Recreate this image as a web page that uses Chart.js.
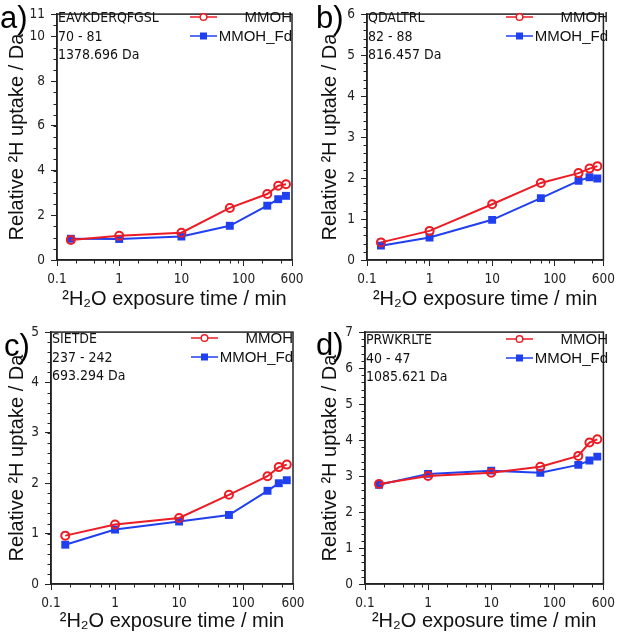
<!DOCTYPE html>
<html>
<head>
<meta charset="utf-8">
<script src="https://cdn.jsdelivr.net/npm/chart.js@4.4.1/dist/chart.umd.min.js"></script>
<style>
  html, body { margin: 0; padding: 0; background: #fff; }
  body { width: 620px; height: 637px; position: relative; overflow: hidden; }
  .panel { position: absolute; }
  .panel canvas { position: absolute; left: 0; top: 0; }
  .tag { position: absolute; font-family: 'Liberation Sans', Arial, sans-serif; font-size: 31px; line-height: 1; color: #000; }
  .pep { position: absolute; font-family: 'DejaVu Sans Condensed', 'DejaVu Sans', sans-serif; font-stretch: condensed; font-size: 14px; line-height: 18.5px; color: #111; white-space: nowrap; }
  .legend { position: absolute; display: grid; grid-template-columns: 27px auto; align-items: center; font-family: 'Liberation Sans', Arial, sans-serif; font-size: 15px; line-height: 19px; color: #111; }
  .legend span { text-align: right; padding-left: 2px; }
  .legend svg { display: block; }
</style>
</head>
<body>

<script>
// ---- data ----
const times = [0.167, 1, 10, 60, 240, 360, 480];
const seriesNames = ['MMOH', 'MMOH_Fd'];
const xTickValues = [0.1, 1, 10, 100, 600];
const xTickLabels = ['0.1', '1', '10', '100', '600'];
const xMinorTicks = [0.2, 0.4, 0.6, 0.8, 2, 4, 6, 8, 20, 40, 60, 80, 200, 400];

// a) EAVKDERQFGSL
const peptideA = ['EAVKDERQFGSL', '70 - 81', '1378.696 Da'];
const mmohA   = [0.90, 1.08, 1.22, 2.33, 2.95, 3.32, 3.39];
const mmohFdA = [0.95, 0.94, 1.05, 1.53, 2.43, 2.72, 2.87];
const yTicksA = [0, 2, 4, 6, 8, 10, 11];

// b) QDALTRL
const peptideB = ['QDALTRL', '82 - 88', '816.457 Da'];
const mmohB   = [0.43, 0.71, 1.36, 1.88, 2.12, 2.23, 2.29];
const mmohFdB = [0.35, 0.55, 0.98, 1.51, 1.93, 2.02, 1.99];
const yTicksB = [0, 1, 2, 3, 4, 5, 6];

// c) SIETDE
const peptideC = ['SIETDE', '237 - 242', '693.294 Da'];
const mmohC   = [0.96, 1.18, 1.31, 1.77, 2.14, 2.32, 2.37];
const mmohFdC = [0.78, 1.08, 1.24, 1.37, 1.85, 2.00, 2.06];
const yTicksC = [0, 1, 2, 3, 4, 5];

// d) PRWKRLTE
const peptideD = ['PRWKRLTE', '40 - 47', '1085.621 Da'];
const mmohD   = [2.78, 3.00, 3.09, 3.26, 3.56, 3.93, 4.02];
const mmohFdD = [2.76, 3.06, 3.15, 3.09, 3.31, 3.43, 3.54];
const yTicksD = [0, 1, 2, 3, 4, 5, 6, 7];

const RED = 'rgb(236,28,36)';
const BLUE = 'rgb(32,64,240)';
const INK = '#222';

// panel placement (pixels), kept apart from the data
const panels = [
  { tag: 'a)', pep: peptideA, red: mmohA, blue: mmohFdA, yTicks: yTicksA, yMinorStep: 0.5,
    box: { x: 0, y: 0, w: 310, h: 318 }, area: { left: 57, right: 292, top: 8, bottom: 260 },
    yTitlePad: 5, xTitlePad: 7, tagPos: { x: 0, y: 2 } },
  { tag: 'b)', pep: peptideB, red: mmohB, blue: mmohFdB, yTicks: yTicksB, yMinorStep: 0.2,
    box: { x: 310, y: 0, w: 310, h: 318 }, area: { left: 57, right: 298, top: 8, bottom: 260 },
    yTitlePad: 8, xTitlePad: 7, tagPos: { x: 6, y: 2 } },
  { tag: 'c)', pep: peptideC, red: mmohC, blue: mmohFdC, yTicks: yTicksC, yMinorStep: 0.2,
    box: { x: 0, y: 318, w: 310, h: 319 }, area: { left: 51, right: 293, top: 11, bottom: 266 },
    yTitlePad: 5, xTitlePad: 4, tagPos: { x: 4, y: 12 } },
  { tag: 'd)', pep: peptideD, red: mmohD, blue: mmohFdD, yTicks: yTicksD, yMinorStep: 0.2,
    box: { x: 310, y: 318, w: 310, h: 319 }, area: { left: 55, right: 298, top: 12, bottom: 266 },
    yTitlePad: 8, xTitlePad: 4, tagPos: { x: 6, y: 11 } }
];

// minor ticks + closed frame around the plot area
const frameAndMinor = {
  id: 'frameAndMinor',
  afterDraw(chart, args, opts) {
    const { ctx, chartArea: a, scales: { x, y } } = chart;
    ctx.save();
    ctx.strokeStyle = INK;
    ctx.lineWidth = 1;
    ctx.beginPath();
    xMinorTicks.forEach(v => {
      const px = Math.round(x.getPixelForValue(v)) + 0.5;
      ctx.moveTo(px, a.bottom);
      ctx.lineTo(px, a.bottom + 3.5);
    });
    const yMax = y.max;
    for (let k = 0; k * opts.yStep <= yMax + 1e-9; k++) {
      const v = k * opts.yStep;
      const py = Math.round(y.getPixelForValue(v)) + 0.5;
      ctx.moveTo(a.left, py);
      ctx.lineTo(a.left - 3.5, py);
    }
    ctx.stroke();
    ctx.lineWidth = 1.5;
    ctx.strokeRect(a.left, a.top, a.right - a.left, a.bottom - a.top);
    ctx.restore();
  }
};

function legendSvg(color, square) {
  const mark = square
    ? `<rect x="10" y="5.5" width="7" height="7" fill="${color}"/>`
    : `<circle cx="13.5" cy="9" r="3.3" fill="#fff" stroke="${color}" stroke-width="1.4"/>`;
  return `<svg width="27" height="18"><line x1="0" y1="9" x2="27" y2="9" stroke="${color}" stroke-width="1.5"/>${mark}</svg>`;
}

panels.forEach(p => {
  const wrap = document.createElement('div');
  wrap.className = 'panel';
  Object.assign(wrap.style, { left: p.box.x + 'px', top: p.box.y + 'px', width: p.box.w + 'px', height: p.box.h + 'px' });
  const canvas = document.createElement('canvas');
  canvas.width = p.box.w;
  canvas.height = p.box.h;
  wrap.appendChild(canvas);
  document.body.appendChild(wrap);

  const a = p.area;
  new Chart(canvas, {
    type: 'line',
    data: {
      datasets: [
        {
          label: seriesNames[0],
          data: times.map((t, i) => ({ x: t, y: p.red[i] })),
          borderColor: RED, borderWidth: 2,
          pointStyle: 'circle', pointRadius: 4, pointBorderWidth: 2,
          pointBorderColor: RED, pointBackgroundColor: 'rgba(255,255,255,0)',
          tension: 0
        },
        {
          label: seriesNames[1],
          data: times.map((t, i) => ({ x: t, y: p.blue[i] })),
          borderColor: BLUE, borderWidth: 2,
          pointStyle: 'rect', pointRadius: 5.6, pointBorderWidth: 0,
          pointBackgroundColor: BLUE, pointBorderColor: BLUE,
          tension: 0
        }
      ]
    },
    options: {
      responsive: false,
      animation: false,
      devicePixelRatio: 1,
      layout: { padding: { left: 0, top: a.top, right: p.box.w - a.right, bottom: 0 } },
      plugins: {
        legend: { display: false },
        tooltip: { enabled: false },
        frameAndMinor: { yStep: p.yMinorStep }
      },
      scales: {
        x: {
          type: 'logarithmic',
          min: 0.1, max: 600,
          afterBuildTicks: s => { s.ticks = xTickValues.map(v => ({ value: v })); },
          afterFit: s => { s.height = p.box.h - a.bottom; },
          ticks: {
            autoSkip: false, maxRotation: 0, padding: 5, color: INK,
            font: { family: "'DejaVu Sans Condensed', 'DejaVu Sans'", size: 13.5 },
            callback: (v, i) => xTickLabels[i]
          },
          grid: { drawOnChartArea: false, drawTicks: true, tickLength: 6, tickColor: INK, tickWidth: 1 },
          border: { display: true, color: INK, width: 1.5 },
          title: {
            display: true, text: '²H₂O exposure time / min', color: '#111',
            font: { family: "'Liberation Sans', Arial", size: 20, lineHeight: 1.2 },
            padding: { top: 0, bottom: p.xTitlePad }
          }
        },
        y: {
          type: 'linear',
          min: 0, max: p.yTicks[p.yTicks.length - 1],
          afterBuildTicks: s => { s.ticks = p.yTicks.map(v => ({ value: v })); },
          afterFit: s => { s.width = a.left; },
          ticks: {
            autoSkip: false, padding: 6, color: INK,
            font: { family: "'DejaVu Sans Condensed', 'DejaVu Sans'", size: 13.5 },
            callback: v => String(v)
          },
          grid: { drawOnChartArea: false, drawTicks: true, tickLength: 6, tickColor: INK, tickWidth: 1 },
          border: { display: true, color: INK, width: 1.5 },
          title: {
            display: true, text: 'Relative ²H uptake / Da', color: '#111',
            font: { family: "'Liberation Sans', Arial", size: 20, lineHeight: 1.2 },
            padding: { top: p.yTitlePad, bottom: 0 }
          }
        }
      }
    },
    plugins: [frameAndMinor]
  });

  // panel letter
  const tag = document.createElement('div');
  tag.className = 'tag';
  tag.textContent = p.tag;
  Object.assign(tag.style, { left: p.tagPos.x + 'px', top: p.tagPos.y + 'px' });
  wrap.appendChild(tag);

  // peptide sequence, residue range, mass
  const pep = document.createElement('div');
  pep.className = 'pep';
  pep.innerHTML = p.pep.join('<br>');
  Object.assign(pep.style, { left: (a.left + 1) + 'px', top: a.top + 'px' });
  wrap.appendChild(pep);

  // legend, right aligned against the frame
  const lg = document.createElement('div');
  lg.className = 'legend';
  lg.innerHTML =
    legendSvg(RED, false) + `<span>${seriesNames[0]}</span>` +
    legendSvg(BLUE, true) + `<span>${seriesNames[1]}</span>`;
  Object.assign(lg.style, { right: (p.box.w - a.right) + 'px', top: (a.top - 1) + 'px' });
  wrap.appendChild(lg);
});
</script>
</body>
</html>
